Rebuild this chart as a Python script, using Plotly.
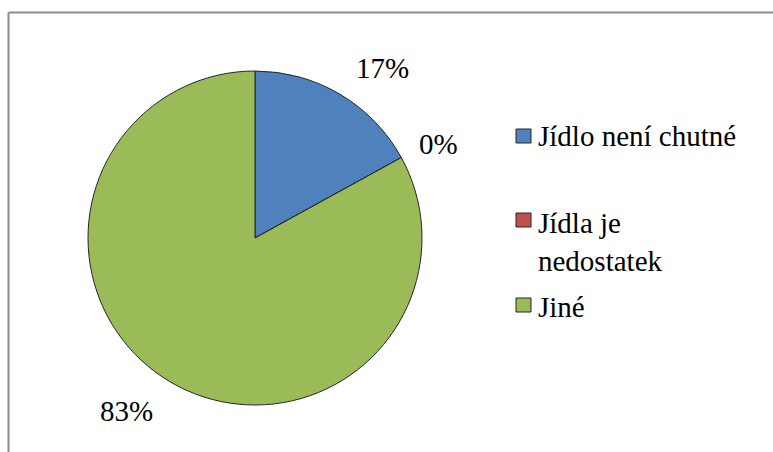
import plotly.graph_objects as go

categories = ["Jídlo není chutné", "Jídla je nedostatek", "Jiné"]
legend_lines = ["Jídlo není chutné", "Jídla je<br>nedostatek", "Jiné"]
values = [17, 0, 83]
colors = ["#4F81BD", "#C0504D", "#9BBB59"]

W, H = 773, 452
SERIF = "Times New Roman"

total = sum(values)
pct_text = [f"{v / total * 100:.0f}%" for v in values]

fig = go.Figure()
fig.add_trace(go.Pie(
    labels=categories,
    values=values,
    sort=False,
    direction="clockwise",
    rotation=0,
    marker=dict(colors=colors, line=dict(color="#262626", width=1)),
    textinfo="none",
    hoverinfo="label+percent",
    showlegend=False,
    domain=dict(x=[88 / W, 422 / W], y=[47 / H, 381 / H]),
))

# percentage labels placed around the pie
label_pos = [(382, 68), (438, 144), (126, 411)]
for txt, (px, py) in zip(pct_text, label_pos):
    fig.add_annotation(
        x=px / W, y=1 - py / H, xref="paper", yref="paper",
        text=txt, showarrow=False, xanchor="center", yanchor="middle",
        font=dict(family=SERIF, size=29),
    )

# hand-laid legend: swatches and labels
swatch_y = [136, 220, 305]
text_y = [136, 242, 307]
for col, line, sy, ty in zip(colors, legend_lines, swatch_y, text_y):
    fig.add_shape(
        type="rect", xref="paper", yref="paper",
        x0=516 / W, x1=531 / W, y0=1 - (sy - 7) / H, y1=1 - (sy + 7) / H,
        fillcolor=col, line=dict(color="#262626", width=1),
    )
    fig.add_annotation(
        x=536 / W, y=1 - ty / H, xref="paper", yref="paper",
        text=line, showarrow=False, xanchor="left", yanchor="middle",
        align="left", font=dict(family=SERIF, size=29),
    )

# chart area frame (top and left edges visible)
fig.add_shape(type="line", xref="paper", yref="paper",
              x0=8.5 / W, x1=1, y0=1 - 12.5 / H, y1=1 - 12.5 / H,
              line=dict(color="#8C8C8C", width=2))
fig.add_shape(type="line", xref="paper", yref="paper",
              x0=8.5 / W, x1=8.5 / W, y0=1 - 12.5 / H, y1=0,
              line=dict(color="#8C8C8C", width=2))

fig.update_layout(
    template="none",
    width=W, height=H,
    margin=dict(l=0, r=0, t=0, b=0),
    font=dict(family=SERIF, size=29, color="black"),
    paper_bgcolor="white",
    plot_bgcolor="white",
)

fig.write_html("out.html")
